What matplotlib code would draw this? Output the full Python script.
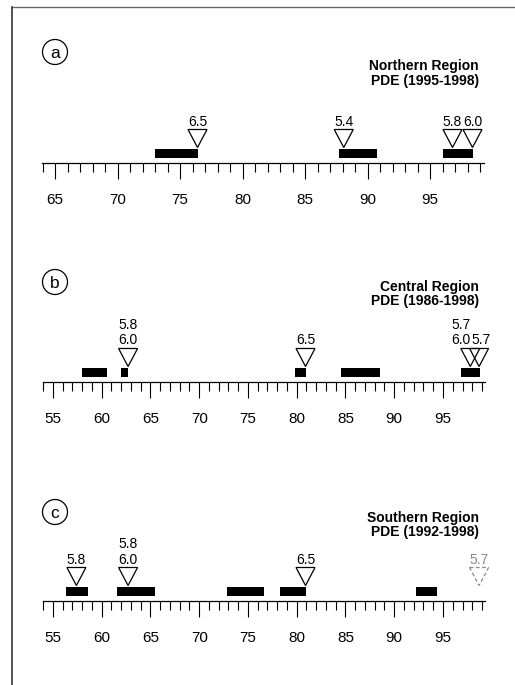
import math
import matplotlib
matplotlib.use("Agg")
import matplotlib.pyplot as plt
from matplotlib.lines import Line2D
from matplotlib.patches import Polygon, Ellipse
from matplotlib.ticker import MultipleLocator, FixedLocator

plt.rcParams['font.family'] = ['Liberation Sans', 'DejaVu Sans']

W, H = 515, 685

# Northern Region, PDE 1995-1998
north_years = (64, 99)
north_bar_start = [73.0, 87.7, 96.0]
north_bar_end = [76.4, 90.8, 98.4]
north_eq_year = [76.4, 88.1, 96.8, 98.4]
north_eq_mag = ['6.5', '5.4', '5.8', '6.0']
north_eq_sure = [True, True, True, True]

# Central Region, PDE 1986-1998
central_years = (54, 99)
central_bar_start = [58.0, 62.0, 79.8, 84.5, 96.8]
central_bar_end = [60.5, 62.7, 81.0, 88.5, 98.8]
central_eq_year = [62.7, 80.9, 97.8, 98.7]
central_eq_mag = ['5.8\n6.0', '6.5', '5.7\n6.0', '5.7']
central_eq_sure = [True, True, True, True]

# Southern Region, PDE 1992-1998
south_years = (54, 99)
south_bar_start = [56.3, 61.6, 72.8, 78.3, 92.2]
south_bar_end = [58.6, 65.5, 76.6, 81.0, 94.4]
south_eq_year = [57.4, 62.7, 80.9, 98.7]
south_eq_mag = ['5.8', '5.8\n6.0', '6.5', '5.7']
south_eq_sure = [True, True, True, False]

fig = plt.figure(figsize=(W / 100, H / 100), dpi=100)

# page frame: top and left rules
fig.add_artist(Line2D([12 / W, 1], [1 - 7 / H, 1 - 7 / H], color='#666666', lw=1.0))
fig.add_artist(Line2D([12 / W, 12 / W], [0, 1 - 7 / H], color='#333333', lw=1.2))


def draw_panel(years, starts, ends, eq_year, eq_mag, eq_sure,
               letter, title, axis_y, x_lo, ppy, letter_y, title_y):
    lo, hi = years
    xmin, xmax = lo - 0.05, hi + 0.35
    left = x_lo - 0.05 * ppy
    width = (xmax - xmin) * ppy
    ax = fig.add_axes([left / W, (H - axis_y - 45) / H, width / W, 105 / H])
    ax.set_xlim(xmin, xmax)
    ax.set_ylim(-45, 60)   # y in pixels above the time line
    ax.patch.set_visible(False)
    for side in ('top', 'left', 'right'):
        ax.spines[side].set_visible(False)
    ax.spines['bottom'].set_position(('data', 0))
    ax.spines['bottom'].set_linewidth(0.9)
    ax.set_yticks([])

    majors = list(range(int(math.ceil(lo / 5.0)) * 5, hi, 5))
    ax.xaxis.set_major_locator(FixedLocator(majors))
    ax.xaxis.set_minor_locator(MultipleLocator(1))
    ax.set_xticklabels([str(m) for m in majors])
    ax.tick_params(axis='x', which='major', direction='out', length=11.5,
                   width=0.8, pad=10, labelsize=11)
    ax.tick_params(axis='x', which='minor', direction='out', length=6.5, width=0.8)

    # periods of PDE activity
    for s, e in zip(starts, ends):
        ax.barh(9.5, e - s, left=s, height=9, color='black', zorder=2)

    # earthquakes: open triangles pointing down, magnitudes above
    hw = 9.5 / ppy
    shifts = [0.0] * len(eq_year)
    for i in range(1, len(eq_year)):
        gap = (eq_year[i] - eq_year[i - 1]) * ppy
        if gap < 20:
            need = (20 - gap) / ppy
            shifts[i - 1] -= 0.8 * need
            shifts[i] += 0.2 * need
    for x, mag, sure, dx in zip(eq_year, eq_mag, eq_sure, shifts):
        col = 'black' if sure else '#8a8a8a'
        ls = '-' if sure else (0, (3, 2))
        tri = Polygon([(x - hw, 33.5), (x + hw, 33.5), (x, 15.5)], closed=True,
                      fc='none', ec=col, lw=0.9, ls=ls, zorder=3, clip_on=False)
        ax.add_patch(tri)
        ax.text(x + dx, 34.5, mag, ha='center', va='bottom', fontsize=10,
                color=col, linespacing=1.1, clip_on=False)

    # panel letter in a circle
    fig.add_artist(Ellipse((55 / W, 1 - letter_y / H), 25 / W, 25 / H,
                           transform=fig.transFigure, fc='none', ec='black', lw=0.9))
    fig.text(55 / W, 1 - letter_y / H, letter, ha='center', va='center_baseline',
             fontsize=12.5)

    fig.text(479 / W, 1 - title_y / H, title, ha='right', va='center',
             multialignment='right', fontweight='bold', fontsize=10, linespacing=1.05)
    return ax


draw_panel(north_years, north_bar_start, north_bar_end, north_eq_year, north_eq_mag,
           north_eq_sure, 'a', 'Northern Region\nPDE (1995-1998)',
           163, 42.5, 12.5, 52, 73.5)
draw_panel(central_years, central_bar_start, central_bar_end, central_eq_year,
           central_eq_mag, central_eq_sure, 'b', 'Central Region\nPDE (1986-1998)',
           382, 43.25, 9.75, 282, 294)
draw_panel(south_years, south_bar_start, south_bar_end, south_eq_year, south_eq_mag,
           south_eq_sure, 'c', 'Southern Region\nPDE (1992-1998)',
           601, 43.25, 9.75, 512, 525)

fig.savefig('out.png', dpi=100)
